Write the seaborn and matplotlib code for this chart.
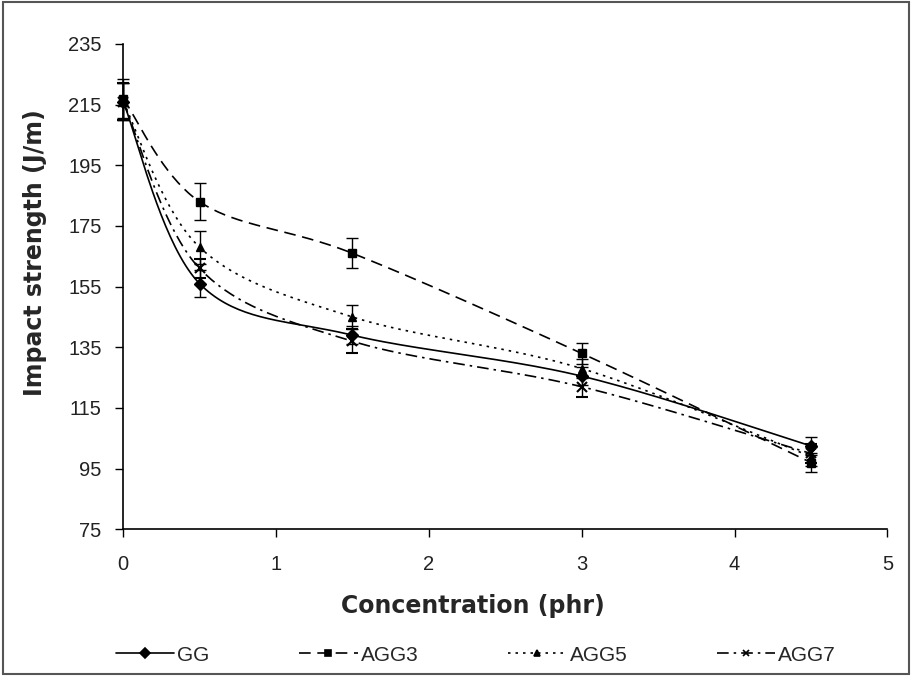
import numpy as np
import matplotlib
matplotlib.use("Agg")
import matplotlib.pyplot as plt
import seaborn as sns
from matplotlib.lines import Line2D
from matplotlib.patches import Rectangle

# Data
conc = [0, 0.5, 1.5, 3, 4.5]
gg = [216, 156, 139, 125.5, 102.5]
agg3 = [217, 183, 166, 133, 97]
agg5 = [216, 168, 145, 128, 99]
agg7 = [216, 161, 137, 122, 100]
gg_err = [6, 4.5, 3, 3, 3]
agg3_err = [6.5, 6, 5, 3.5, 3]
agg5_err = [6, 5.5, 4, 3, 3]
agg7_err = [6, 3, 4, 3.5, 3]
series_names = ["GG", "AGG3", "AGG5", "AGG7"]

sns.set_style("ticks")
plt.rcParams["font.family"] = ["Liberation Sans", "DejaVu Sans"]


def smooth(xs, ys, sx=153.0, sy=3.04, n=40):
    # Excel-like smoothed line: Catmull-Rom Bezier in screen-scaled space
    p = np.column_stack([np.asarray(xs) * sx, np.asarray(ys) * sy])
    out = []
    for i in range(len(p) - 1):
        p0 = p[i - 1] if i > 0 else p[i]
        p1, p2 = p[i], p[i + 1]
        p3 = p[i + 2] if i + 2 < len(p) else p[i + 1]
        c1 = p1 + (p2 - p0) / 6
        c2 = p2 - (p3 - p1) / 6
        t = np.linspace(0, 1, n)[:, None]
        seg = (1 - t) ** 3 * p1 + 3 * (1 - t) ** 2 * t * c1 + 3 * (1 - t) * t ** 2 * c2 + t ** 3 * p2
        out.append(seg if i == 0 else seg[1:])
    out = np.vstack(out)
    return out[:, 0] / sx, out[:, 1] / sy


fig = plt.figure(figsize=(9.12, 6.76), dpi=100)
ax = fig.add_axes([0.135, 0.217, 0.838, 0.718])

styles = [
    ("-", "D", gg, gg_err),
    ((0, (7, 4)), "s", agg3, agg3_err),
    ((0, (1.5, 3)), "^", agg5, agg5_err),
    ((0, (7, 3, 1.5, 3)), "x", agg7, agg7_err),
]

handles = []
for name, (ls, mk, vals, err) in zip(series_names, styles):
    cx, cy = smooth(conc, vals)
    sns.lineplot(x=cx, y=cy, ax=ax, color="black", linewidth=1.2,
                 linestyle=ls, sort=False, estimator=None)
    ax.errorbar(conc, vals, yerr=err, fmt=mk, color="black", ms=6 if mk != "x" else 7,
                mew=1.5 if mk == "x" else 1, capsize=4, elinewidth=1, capthick=1,
                linestyle="none", clip_on=False, zorder=5)
    handles.append(Line2D([0], [0], color="black", linestyle=ls, linewidth=1.2,
                          marker=mk, ms=5, mew=1.2))

ax.set_xlim(0, 5)
ax.set_ylim(75, 235)
ax.set_xticks(range(0, 6))
ax.set_yticks(range(75, 236, 20))
ax.tick_params(labelsize=14.5, length=5.5, width=1, color="black", labelcolor="#222222")
ax.tick_params(axis="x", pad=13)
ax.tick_params(axis="y", pad=10)
for s in ["top", "right"]:
    ax.spines[s].set_visible(False)
for s in ["left", "bottom"]:
    ax.spines[s].set_linewidth(1.2)
    ax.spines[s].set_color("black")

ax.set_xlabel("Concentration (phr)", fontsize=17, fontweight="bold",
              family=["DejaVu Sans"])
ax.set_ylabel("Impact strength (J/m)", fontsize=17, fontweight="bold",
              family=["DejaVu Sans"])
ax.xaxis.set_label_coords(0.457, -0.134)
ax.yaxis.set_label_coords(-0.1, 0.57)

fig.legend(handles, series_names, loc="center", bbox_to_anchor=(0.522, 0.031), ncol=4,
           frameon=False, fontsize=15, handlelength=2.8, handletextpad=0.15,
           columnspacing=4.3)

fig.patches.append(Rectangle((0.003, 0.003), 0.994, 0.994, transform=fig.transFigure,
                             fill=False, edgecolor="#555555", linewidth=1.5))

fig.savefig("out.png", dpi=100)
